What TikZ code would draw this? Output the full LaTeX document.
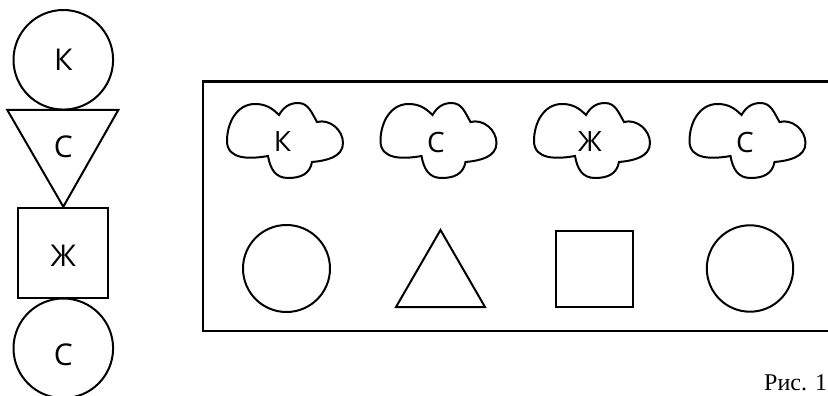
\documentclass[tikz,border=0pt]{standalone}
\usepackage{fontspec}
\setmainfont{Liberation Serif}
\newfontfamily\lblfont{Open Sans}
\tikzset{
  shp/.style={draw=black, line width=2pt, line join=miter},
  frm/.style={draw=black, line width=2.6pt},
  lbl/.style={font=\lblfont\fontsize{30}{32}\selectfont, inner sep=0pt, anchor=center},
  clbl/.style={font=\lblfont\fontsize{28}{30}\selectfont, inner sep=0pt, anchor=center},
  captxt/.style={font=\fontsize{24}{27}\selectfont, inner sep=0pt, anchor=base west},
  pics/cloud/.style={code={
    \draw[shp] (-17,-15) to[out=190,in=-90,looseness=1.1] (-58,0) to[out=90,in=180] (-30,37)
      to[out=0,in=135] (-6,26) to[out=60,in=180] (13,38) to[out=0,in=120] (32,19)
      to[out=15,in=90] (58,-2) to[out=-90,in=5] (27,-21)
      to[out=-100,in=0,looseness=1.1] (3,-37) to[out=180,in=-80,looseness=1.1] cycle;
  }}
}
\begin{document}
\begin{tikzpicture}[x=1pt,y=1pt]
\useasboundingbox (0,0) rectangle (828,-396);
\clip (0,0) rectangle (828,-396);
% left column
\draw[shp] (63.3,-59.8) circle (49.8);
\draw[shp] (7.3,-110) -- (118.3,-110) -- (63.3,-206.7) -- cycle;
\draw[shp] (18.3,-208.3) rectangle (108.3,-297.7);
\draw[shp] (63.3,-348.3) circle (49.8);
\node[lbl] (k1) at (63.3,-60) {К};
\node[lbl] (s1) at (63.3,-147) {С};
\node[lbl] (z1) at (63.3,-256) {Ж};
\node[lbl] (s2) at (63.3,-355) {С};
% frame
\draw[frm] (835,-81.7) -- (203,-81.7) -- (203,-331) -- (835,-331);
% clouds
\pic at (285,-141) {cloud};
\pic at (438.5,-141) {cloud};
\pic at (592,-141) {cloud};
\pic at (747.5,-141) {cloud};
\node[clbl] (k2) at (282.5,-142) {К};
\node[clbl] (s3) at (436,-142) {С};
\node[clbl] (z2) at (590,-142) {Ж};
\node[clbl] (s4) at (745,-142) {С};
% figures
\draw[shp] (286.5,-268.5) circle (43.5);
\draw[shp] (396,-307) -- (485,-307) -- (440.5,-230) -- cycle;
\draw[shp] (556,-231) rectangle (633,-307);
\draw[shp] (750,-268.5) circle (43.2);
% caption
\node[captxt] (captn) at (764,-390) {Рис. 1};
\end{tikzpicture}
\end{document}
